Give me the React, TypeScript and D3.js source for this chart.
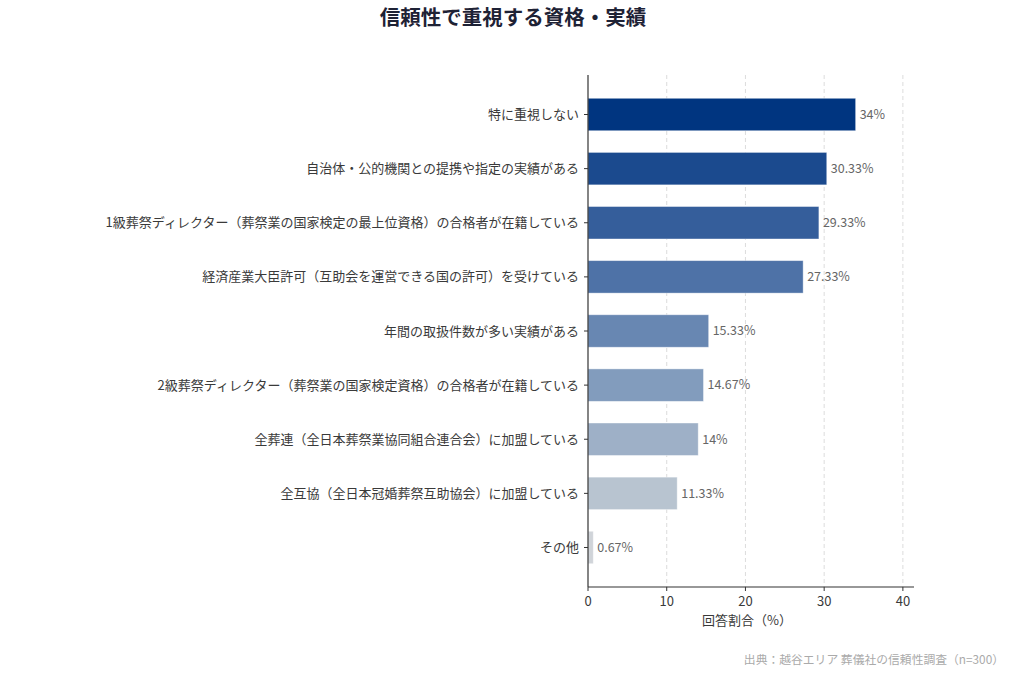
import { useEffect, useRef } from 'react';
import * as d3 from 'd3';

const categories = [
  '特に重視しない',
  '自治体・公的機関との提携や指定の実績がある',
  '1級葬祭ディレクター（葬祭業の国家検定の最上位資格）の合格者が在籍している',
  '経済産業大臣許可（互助会を運営できる国の許可）を受けている',
  '年間の取扱件数が多い実績がある',
  '2級葬祭ディレクター（葬祭業の国家検定資格）の合格者が在籍している',
  '全葬連（全日本葬祭業協同組合連合会）に加盟している',
  '全互協（全日本冠婚葬祭互助協会）に加盟している',
  'その他',
];
const values = [34, 30.33, 29.33, 27.33, 15.33, 14.67, 14, 11.33, 0.67];
const palette = ['#003580', '#1b4a8e', '#355e9b', '#4e72a7', '#6887b2', '#829cbd', '#9eb0c7', '#b8c4d0', '#d0d4d9'];
const xTicks = [0, 10, 20, 30, 40];

const TITLE = '信頼性で重視する資格・実績';
const X_LABEL = '回答割合（%）';
const SOURCE = '出典：越谷エリア 葬儀社の信頼性調査（n=300）';
const FONT = '"Noto Sans CJK JP", "Noto Sans", sans-serif';

export default function App() {
  const ref = useRef<SVGSVGElement | null>(null);
  useEffect(() => {
    const svg = d3.select(ref.current!);
    svg.selectAll('*').remove();
    const W = 1024, H = 683;
    const margin = { top: 75, left: 588, right: 110, bottom: 96 };
    const iw = W - margin.left - margin.right;
    const ih = H - margin.top - margin.bottom;
    const n = categories.length;

    const x = d3.scaleLinear().domain([0, 34 * 1.218]).range([0, iw]);
    // matplotlib style: bar height 0.6, 5% margin on y
    const y = d3.scaleLinear().domain([-0.73, n - 1 + 0.73]).range([0, ih]);
    const bh = y(0.6) - y(0);

    svg.attr('viewBox', `0 0 ${W} ${H}`).attr('width', W).attr('height', H).style('font-family', FONT);
    svg.append('rect').attr('width', W).attr('height', H).attr('fill', '#fff');

    svg.append('text').attr('x', 513).attr('y', 25).attr('text-anchor', 'middle')
      .attr('font-size', 20.5).attr('font-weight', 'bold').attr('fill', '#1e2235').text(TITLE);

    const g = svg.append('g').attr('transform', `translate(${margin.left},${margin.top})`);

    // grid
    g.append('g').selectAll('line').data(xTicks.filter((t) => t > 0)).enter().append('line')
      .attr('x1', (d) => x(d)).attr('x2', (d) => x(d)).attr('y1', 0).attr('y2', ih)
      .attr('stroke', '#dcdcdc').attr('stroke-width', 1).attr('stroke-dasharray', '4,3');

    // bars
    g.append('g').selectAll('rect').data(values).enter().append('rect')
      .attr('x', x(0)).attr('y', (_, i) => y(i) - bh / 2)
      .attr('width', (d) => x(d) - x(0)).attr('height', bh)
      .attr('fill', (_, i) => palette[i]).attr('stroke', '#fff').attr('stroke-opacity', 0.5).attr('stroke-width', 0.8);

    // value labels
    g.append('g').selectAll('text').data(values).enter().append('text')
      .attr('x', (d) => x(d) + 4).attr('y', (_, i) => y(i)).attr('dy', '0.35em')
      .attr('font-size', 12.5).attr('fill', '#666').text((d) => `${d}%`);

    // y axis
    const ya = g.append('g');
    ya.append('line').attr('x1', 0).attr('x2', 0).attr('y1', 0).attr('y2', ih).attr('stroke', '#333').attr('stroke-width', 1.2);
    const yt = ya.selectAll('g').data(categories).enter().append('g').attr('transform', (_, i) => `translate(0,${y(i)})`);
    yt.append('line').attr('x1', -4).attr('x2', 0).attr('stroke', '#333');
    yt.append('text').attr('x', -9).attr('dy', '0.35em').attr('text-anchor', 'end')
      .attr('font-size', 13).attr('fill', '#3a3a3a').text((d) => d);

    // x axis
    const xa = g.append('g').attr('transform', `translate(0,${ih})`);
    xa.append('line').attr('x1', 0).attr('x2', iw).attr('stroke', '#333').attr('stroke-width', 1.2);
    const xt = xa.selectAll('g').data(xTicks).enter().append('g').attr('transform', (d) => `translate(${x(d)},0)`);
    xt.append('line').attr('y1', 0).attr('y2', 4).attr('stroke', '#333');
    xt.append('text').attr('y', 19).attr('text-anchor', 'middle').attr('font-size', 13).attr('fill', '#3a3a3a').text((d) => d);

    g.append('text').attr('x', iw / 2 - 4).attr('y', ih + 38).attr('text-anchor', 'middle')
      .attr('font-size', 13).attr('fill', '#3a3a3a').text(X_LABEL);

    svg.append('text').attr('x', 1004).attr('y', 664).attr('text-anchor', 'end')
      .attr('font-size', 11.8).attr('fill', '#aaa').text(SOURCE);
  }, []);
  return (
    <div style={{ position: 'absolute', left: 0, top: 0 }}>
      <svg ref={ref} style={{ display: 'block' }} />
    </div>
  );
}
